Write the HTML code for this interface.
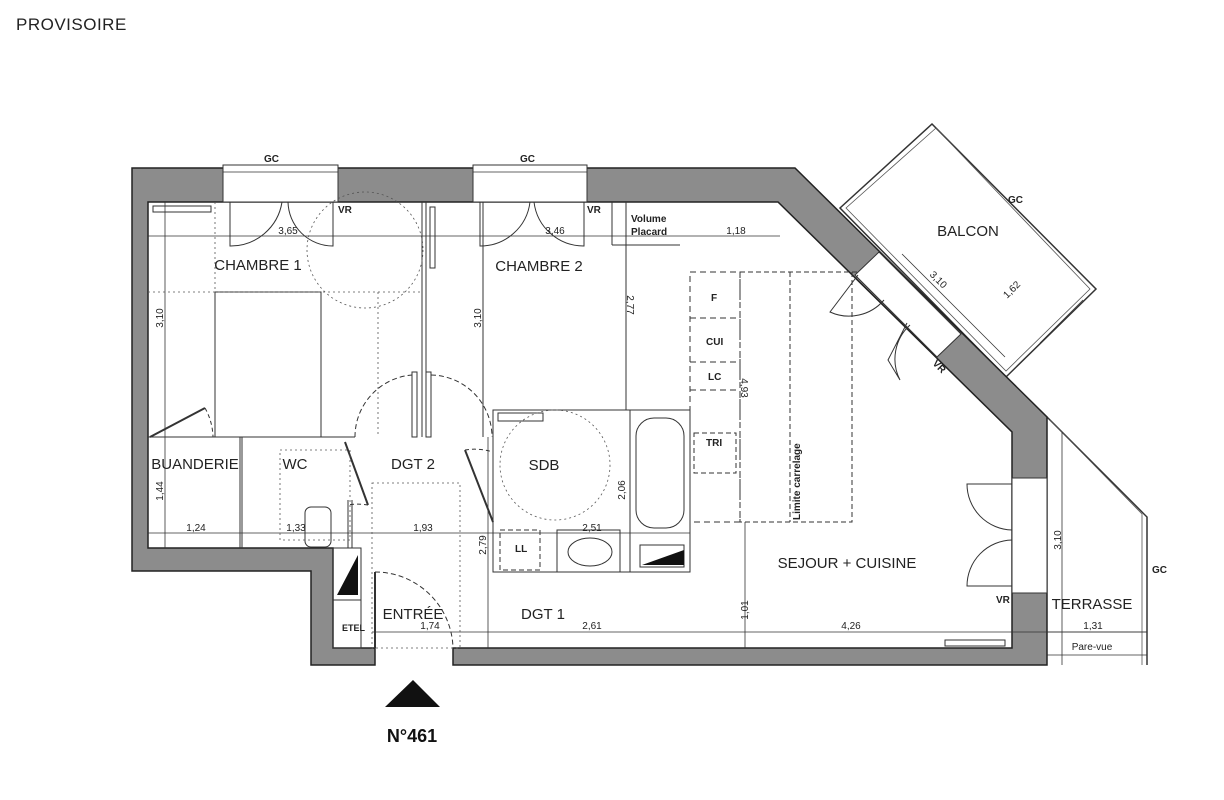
<!DOCTYPE html>
<html><head><meta charset="utf-8"><style>
html,body{margin:0;padding:0;background:#fff;}
svg{display:block;}
text{font-family:"Liberation Sans",sans-serif;fill:#222;}
.lbl{font-size:15px;}
.dim{font-size:10px;fill:#444;}
.b{font-weight:bold;font-size:10px;}
</style></head><body>
<svg width="1224" height="800" viewBox="0 0 1224 800" xmlns="http://www.w3.org/2000/svg">
<text x="16" y="30" style="font-size:17px;letter-spacing:0.5px">PROVISOIRE</text>

<!-- balcony -->
<polygon points="932,124 1096,289 1006,377 840,208" fill="none" stroke="#333" stroke-width="1.5"/>
<polygon points="936,128 1090,289 1006,371 846,208" fill="none" stroke="#555" stroke-width="0.8"/>
<line x1="1040" y1="343" x2="1083" y2="300" stroke="#333" stroke-width="0.8"/>
<line x1="902" y1="254" x2="1005" y2="357" stroke="#333" stroke-width="0.8"/>

<!-- terrasse -->
<polyline points="1047,417 1147,517 1147,665" fill="none" stroke="#333" stroke-width="1.5"/>
<polyline points="1050,420 1142,514 1142,665" fill="none" stroke="#555" stroke-width="0.8"/>
<line x1="1062" y1="432" x2="1062" y2="665" stroke="#333" stroke-width="0.8"/>
<line x1="1047" y1="632" x2="1147" y2="632" stroke="#333" stroke-width="0.8"/>
<line x1="1047" y1="655" x2="1147" y2="655" stroke="#333" stroke-width="0.8"/>

<!-- walls -->
<path d="M132,168 L795,168 L1047,417 L1047,665 L453,665 L453,648 L1012,648 L1012,432 L778,202 L148,202 L148,548 L333,548 L333,648 L375,648 L375,665 L311,665 L311,571 L132,571 Z" fill="#8c8c8c" stroke="#222" stroke-width="1.5"/>
<!-- top windows -->
<rect x="223" y="165" width="115" height="37" fill="#fff" stroke="#333" stroke-width="1"/>
<line x1="223" y1="172" x2="338" y2="172" stroke="#333" stroke-width="0.8"/>
<rect x="473" y="165" width="114" height="37" fill="#fff" stroke="#333" stroke-width="1"/>
<line x1="473" y1="172" x2="587" y2="172" stroke="#333" stroke-width="0.8"/>
<!-- balcony window in wall -->
<polygon points="879,252 961,334 937,357 855,275" fill="#fff" stroke="#333" stroke-width="1"/>
<!-- right window -->
<rect x="1012" y="478" width="35" height="115" fill="#fff" stroke="#333" stroke-width="1"/>

<g fill="none" stroke="#333" stroke-width="1">
<!-- top window door leaves -->
<path d="M230,202 V246 A52,52 0 0 0 282,202"/><path d="M333,202 V246 A45,45 0 0 1 288,202"/>
<path d="M480,202 V246 A50,50 0 0 0 530,202"/><path d="M584,202 V246 A50,50 0 0 1 534,202"/>
<!-- bedrooms -->
<line x1="422" y1="202" x2="422" y2="437"/><line x1="426" y1="202" x2="426" y2="437"/>
<rect x="430" y="207" width="5" height="61"/>
<line x1="148" y1="437" x2="355" y2="437"/>
<rect x="215" y="292" width="106" height="145"/>
<line x1="483" y1="202" x2="483" y2="437"/>
<line x1="626" y1="202" x2="626" y2="410"/>
<line x1="612" y1="202" x2="612" y2="245"/>
<line x1="612" y1="245" x2="680" y2="245"/>
<!-- dims -->
<line x1="148" y1="236" x2="780" y2="236" stroke-width="0.8"/>
<line x1="148" y1="533" x2="690" y2="533" stroke-width="0.8"/>
<line x1="372" y1="632" x2="1147" y2="632" stroke-width="0.8"/>
<line x1="165" y1="202" x2="165" y2="548" stroke-width="0.8"/>
<line x1="745" y1="522" x2="745" y2="648" stroke-width="0.8"/>
<line x1="488" y1="437" x2="488" y2="648" stroke-width="0.8"/>
<!-- doors -->
<path d="M150,437 L205,408" stroke-width="2"/><path d="M205,408 A62,62 0 0 1 213,437" stroke-dasharray="4,3"/>
<rect x="412" y="372" width="5" height="65"/><rect x="426" y="372" width="5" height="65"/>
<path d="M355,437 A62,62 0 0 1 412,375" stroke-dasharray="5,3"/><path d="M431,375 A62,62 0 0 1 492,437" stroke-dasharray="5,3"/>
<path d="M345,442 L368,505" stroke-width="2"/><path d="M368,505 A58,58 0 0 0 348,505" stroke-dasharray="4,3"/>
<path d="M465,450 L493,522" stroke-width="2"/><path d="M465,450 A60,60 0 0 1 493,452" stroke-dasharray="4,3"/>
<path d="M375,572 L375,648" stroke-width="2"/><path d="M375,572 A78,78 0 0 1 453,648" stroke-dasharray="5,3"/>
<!-- wc / buanderie -->
<line x1="240" y1="437" x2="240" y2="548"/><line x1="242" y1="437" x2="242" y2="548"/>
<line x1="348" y1="500" x2="348" y2="548"/><line x1="352" y1="500" x2="352" y2="548"/>
<rect x="305" y="507" width="26" height="40" rx="6"/>
<rect x="333" y="548" width="28" height="52"/><rect x="333" y="600" width="28" height="48"/>
<!-- sdb -->
<rect x="493" y="410" width="197" height="162"/>
<line x1="630" y1="410" x2="630" y2="572"/><line x1="690" y1="410" x2="690" y2="572"/>
<rect x="636" y="418" width="48" height="110" rx="18"/>
<rect x="640" y="545" width="44" height="22"/>
<rect x="557" y="530" width="63" height="42"/>
<ellipse cx="590" cy="552" rx="22" ry="14"/>
<rect x="500" y="530" width="40" height="40" stroke-dasharray="5,3"/>
<rect x="498" y="413" width="45" height="8"/>
<!-- kitchen -->
<rect x="690" y="272" width="50" height="250" stroke-dasharray="6,4"/>
<line x1="690" y1="318" x2="740" y2="318" stroke-dasharray="6,4"/>
<line x1="690" y1="362" x2="740" y2="362" stroke-dasharray="6,4"/>
<line x1="690" y1="390" x2="740" y2="390" stroke-dasharray="6,4"/>
<rect x="694" y="433" width="42" height="40" stroke-dasharray="5,3"/>
<rect x="740" y="272" width="112" height="250" stroke-dasharray="5,3"/>
<line x1="790" y1="272" x2="790" y2="522" stroke-dasharray="5,3"/>
<line x1="852" y1="272" x2="860" y2="272" stroke-dasharray="5,3"/>
<rect x="945" y="640" width="60" height="6"/>
<rect x="153" y="206" width="58" height="6"/>
<!-- right window doors -->
<path d="M1012,484 H967 A46,46 0 0 0 1012,530"/><path d="M1012,586 H967 A46,46 0 0 1 1012,540"/>
<!-- balcony doors -->
<path d="M858,275 L830,312 A46,46 0 0 0 884,300"/>
<path d="M907,323 L888,360 L900,380 A46,46 0 0 1 910,325"/>
</g>
<g fill="none" stroke="#555" stroke-width="0.8" stroke-dasharray="2,3">
<circle cx="365" cy="250" r="58"/>
<circle cx="555" cy="465" r="55"/>
<line x1="148" y1="292" x2="420" y2="292"/>
<line x1="215" y1="202" x2="215" y2="292"/>
<line x1="378" y1="292" x2="378" y2="437"/>
<rect x="372" y="483" width="88" height="165"/>
<rect x="280" y="450" width="70" height="90"/>
</g>
<!-- solid fills -->
<polygon points="337,595 358,555 358,595" fill="#111"/>
<polygon points="642,565 684,550 684,565" fill="#111"/>
<polygon points="385,707 413,680 440,707" fill="#111"/>

<g class="b">
<text x="264" y="162">GC</text><text x="520" y="162">GC</text>
<text x="1008" y="203">GC</text><text x="1152" y="573">GC</text>
<text x="338" y="213">VR</text><text x="587" y="213">VR</text>
<text x="996" y="603">VR</text>
<text x="932" y="368" transform="rotate(45 937 366)">VR</text>
<text x="631" y="222">Volume</text><text x="631" y="235">Placard</text>
<text x="711" y="301">F</text><text x="706" y="345">CUI</text><text x="708" y="380">LC</text>
<text x="706" y="446">TRI</text><text x="515" y="552">LL</text><text x="342" y="631" style="font-size:9px">ETEL</text>
<text x="800" y="520" transform="rotate(-90 800 520)" style="font-size:10px">Limite carrelage</text>
</g>
<g class="lbl">
<text x="258" y="270" text-anchor="middle">CHAMBRE 1</text>
<text x="539" y="271" text-anchor="middle">CHAMBRE 2</text>
<text x="968" y="236" text-anchor="middle">BALCON</text>
<text x="195" y="469" text-anchor="middle">BUANDERIE</text>
<text x="295" y="469" text-anchor="middle">WC</text>
<text x="413" y="469" text-anchor="middle">DGT 2</text>
<text x="544" y="470" text-anchor="middle">SDB</text>
<text x="847" y="568" text-anchor="middle">SEJOUR + CUISINE</text>
<text x="413" y="619" text-anchor="middle">ENTRÉE</text>
<text x="543" y="619" text-anchor="middle">DGT 1</text>
<text x="1092" y="609" text-anchor="middle">TERRASSE</text>
</g>
<g class="dim" text-anchor="middle">
<text x="288" y="234">3,65</text><text x="555" y="234">3,46</text><text x="736" y="234">1,18</text>
<text x="196" y="531">1,24</text><text x="296" y="531">1,33</text><text x="423" y="531">1,93</text><text x="592" y="531">2,51</text>
<text x="430" y="629">1,74</text><text x="592" y="629">2,61</text><text x="851" y="629">4,26</text><text x="1093" y="629">1,31</text>
<text x="1092" y="650">Pare-vue</text>
<text transform="translate(163,318) rotate(-90)">3,10</text>
<text transform="translate(481,318) rotate(-90)">3,10</text>
<text transform="translate(627,305) rotate(90)">2,77</text>
<text transform="translate(741,388) rotate(90)">4,93</text>
<text transform="translate(625,490) rotate(-90)">2,06</text>
<text transform="translate(486,545) rotate(-90)">2,79</text>
<text transform="translate(748,610) rotate(-90)">1,01</text>
<text transform="translate(163,491) rotate(-90)">1,44</text>
<text transform="translate(1061,540) rotate(-90)">3,10</text>
<text transform="translate(936,282) rotate(45)">3,10</text>
<text transform="translate(1014,292) rotate(-45)">1,62</text>
</g>
<text x="412" y="742" text-anchor="middle" style="font-size:18px;font-weight:bold;fill:#111">N°461</text>
</svg>
</body></html>
